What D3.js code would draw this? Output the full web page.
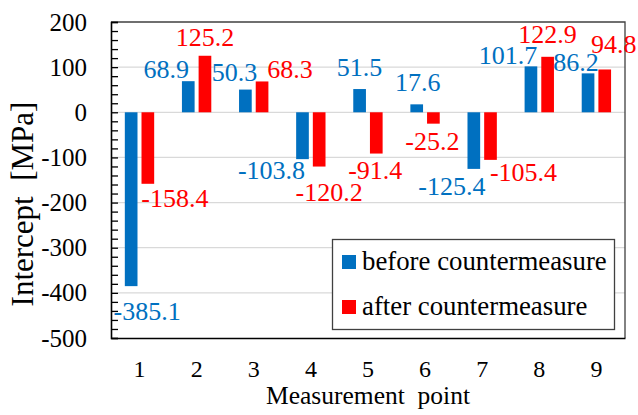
<!DOCTYPE html>
<html>
<head>
<meta charset="utf-8">
<script src="https://cdn.jsdelivr.net/npm/d3@7"></script>
<style>
  html, body { margin: 0; padding: 0; background: #fff; }
  svg { display: block; }
  text { font-family: "Liberation Serif", "Times New Roman", serif; }
</style>
</head>
<body>
<svg id="chart" width="638" height="415"></svg>
<script>
// Measurement points and intercept values [MPa]
const points = [1, 2, 3, 4, 5, 6, 7, 8, 9];
const before = [-385.1, 68.9, 50.3, -103.8, 51.5, 17.6, -125.4, 101.7, 86.2];
const after  = [-158.4, 125.2, 68.3, -120.2, -91.4, -25.2, -105.4, 122.9, 94.8];
const seriesNames = ["before countermeasure", "after countermeasure"];
const yTicks = [200, 100, 0, -100, -200, -300, -400, -500];

const colors = { before: "#0070C0", after: "#FF0000" };

// Hand-placed label nudges [dx, dy] so value labels do not collide
const labelNudge = {
  before: [[16, 9], [-22, 10], [-11, 4], [-31, -5], [0, 0], [1, 0], [-22, 1], [-23, 11], [-12, 11]],
  after:  [[27, -2], [0, 3], [28, 10], [10, 9], [-1, 0], [-1, 1], [33, -4], [0, -1], [9, -3]]
};

const svg = d3.select("#chart");
const plot = { left: 111, right: 625, top: 22, bottom: 338 };

const x = d3.scaleBand().domain(points).range([plot.left, plot.right]);
const xs = d3.scaleBand().domain(["before", "after"])
  .range([x.bandwidth() * 0.242, x.bandwidth() * 0.756]).paddingInner(0.24);
const y = d3.scaleLinear().domain([-500, 200]).range([plot.bottom, plot.top]);

// Gridlines
svg.append("g").selectAll("line")
  .data(yTicks.filter(t => t > -500 && t < 200))
  .join("line")
  .attr("x1", plot.left).attr("x2", plot.right)
  .attr("y1", d => y(d)).attr("y2", d => y(d))
  .attr("stroke", "#d9d9d9").attr("stroke-width", 1.3);

// Bars
const rows = points.map((p, i) => ({ p, i, before: before[i], after: after[i] }));
["before", "after"].forEach(key => {
  svg.append("g").selectAll("rect")
    .data(rows)
    .join("rect")
    .attr("x", d => x(d.p) + xs(key))
    .attr("width", xs.bandwidth())
    .attr("y", d => y(Math.max(0, d[key])))
    .attr("height", d => Math.abs(y(d[key]) - y(0)))
    .attr("fill", colors[key]);
});

// Plot frame: top and right in dark grey
svg.append("path")
  .attr("d", `M${plot.left},${plot.top}H${plot.right}V${plot.bottom}`)
  .attr("fill", "none").attr("stroke", "#404040").attr("stroke-width", 1.3);

// Y axis with inward major and minor ticks
const yAxis = d3.axisRight(y).tickValues(d3.range(-500, 201, 20)).tickSize(7).tickFormat("");
const gy = svg.append("g").attr("transform", `translate(${plot.left},0)`).call(yAxis);
gy.select(".domain").attr("stroke", "#000").attr("stroke-width", 1.6);
gy.selectAll(".tick line").attr("stroke", "#000").attr("stroke-width", 1.3);

// Y tick labels
svg.append("g").selectAll("text")
  .data(yTicks)
  .join("text")
  .attr("x", 87).attr("y", d => y(d) + 8.5)
  .attr("text-anchor", "end")
  .attr("font-size", 25)
  .attr("fill", "#000")
  .text(d => d);

// X axis line along the bottom
const xAxis = d3.axisBottom(x).tickSize(0).tickPadding(0);
const gx = svg.append("g").attr("transform", `translate(0,${plot.bottom})`).call(xAxis);
gx.select(".domain").attr("stroke", "#000").attr("stroke-width", 1.6);
gx.selectAll(".tick text")
  .attr("font-size", 24).attr("fill", "#000")
  .attr("font-family", "Liberation Serif, Times New Roman, serif")
  .attr("dy", null).attr("y", 39);

// Value labels
["before", "after"].forEach(key => {
  svg.append("g").selectAll("text")
    .data(rows)
    .join("text")
    .attr("x", d => x(d.p) + xs(key) + xs.bandwidth() / 2 + labelNudge[key][d.i][0])
    .attr("y", d => y(d[key]) + (d[key] >= 0 ? -13 : 25) + labelNudge[key][d.i][1])
    .attr("text-anchor", "middle")
    .attr("font-size", 26)
    .attr("fill", colors[key])
    .text(d => d[key].toFixed(1));
});

// Axis titles
svg.append("text")
  .attr("x", (plot.left + plot.right) / 2).attr("y", 404)
  .attr("text-anchor", "middle").attr("font-size", 25.5).attr("fill", "#000")
  .style("white-space", "pre")
  .text("Measurement  point");

svg.append("text")
  .attr("transform", "translate(33,204) rotate(-90)")
  .attr("text-anchor", "middle").attr("font-size", 31).attr("fill", "#000")
  .style("white-space", "pre")
  .text("Intercept  [MPa]");

// Legend
const lg = svg.append("g");
lg.append("rect")
  .attr("x", 332.5).attr("y", 239.5).attr("width", 282).attr("height", 90)
  .attr("fill", "#fff").attr("stroke", "#404040").attr("stroke-width", 1.3);
["before", "after"].forEach((key, k) => {
  lg.append("rect")
    .attr("x", 342).attr("y", 255 + k * 45).attr("width", 14).attr("height", 14)
    .attr("fill", colors[key]);
  lg.append("text")
    .attr("x", 362).attr("y", 270 + k * 45)
    .attr("font-size", 26.8).attr("fill", "#000")
    .text(seriesNames[k]);
});
</script>
</body>
</html>
